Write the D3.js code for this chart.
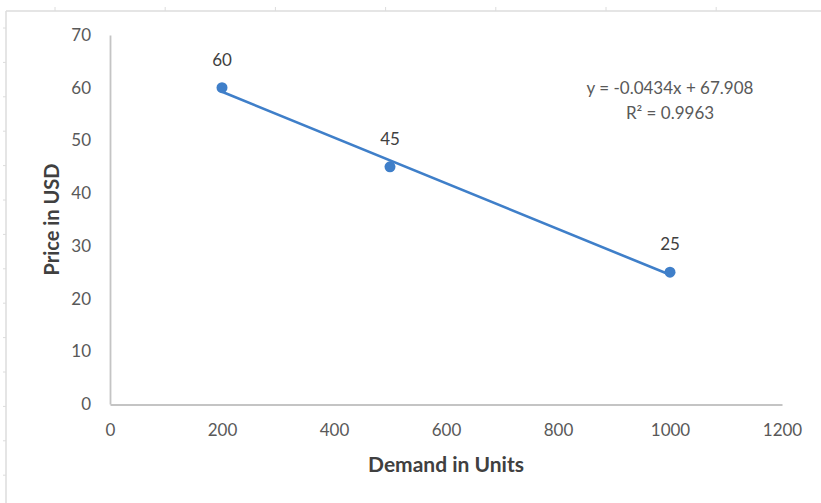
<!DOCTYPE html>
<html>
<head>
<meta charset="utf-8">
<script src="https://cdn.jsdelivr.net/npm/d3@7"></script>
<style>
  html, body { margin: 0; padding: 0; background: #ffffff; }
  svg { display: block; font-family: Lato, "Open Sans", sans-serif; }
</style>
</head>
<body>
<svg id="chart" width="821" height="503"></svg>
<script>
// ---- data ----
const demand = [200, 500, 1000];
const price = [60, 45, 25];
const pointLabels = ["60", "45", "25"];
const xTicks = [0, 200, 400, 600, 800, 1000, 1200];
const yTicks = [0, 10, 20, 30, 40, 50, 60, 70];
const trendSlope = -0.0434;
const trendIntercept = 67.908;
const trendRange = [200, 1000];
const equationLines = ["y = -0.0434x + 67.908", "R² = 0.9963"];
const xTitle = "Demand in Units";
const yTitle = "Price in USD";

// ---- layout ----
const W = 821, H = 503;
const svg = d3.select("#chart");
const x = d3.scaleLinear().domain([0, 1200]).range([110, 782]);
const y = d3.scaleLinear().domain([0, 70]).range([404, 35]);
const blue = "#3f7fc9";
const axisGrey = "#c4c4c4";
const textGrey = "#595959";

// faint sheet frame (decoration)
const frame = svg.append("g").attr("stroke", "#dcdcdc").attr("fill", "none");
frame.append("line").attr("x1", 6).attr("x2", W).attr("y1", 11).attr("y2", 11).attr("stroke-width", 1.5);
frame.append("line").attr("x1", 6).attr("x2", 6).attr("y1", 11).attr("y2", H).attr("stroke-width", 1.5);
frame.selectAll("line.tt").data(d3.range(55, W, 110.2)).enter().append("line")
  .attr("class", "tt").attr("x1", d => d).attr("x2", d => d).attr("y1", 7).attr("y2", 11).attr("stroke-width", 1);
frame.selectAll("line.lt").data(d3.range(28, H, 34.4)).enter().append("line")
  .attr("class", "lt").attr("x1", 3).attr("x2", 6).attr("y1", d => d).attr("y2", d => d).attr("stroke-width", 1);

// axes
const fmt = d3.format("d");
const xAxis = svg.append("g").attr("transform", "translate(0,404)")
  .call(d3.axisBottom(x).tickValues(xTicks).tickFormat(fmt).tickSize(0).tickSizeOuter(0).tickPadding(20));
const yAxis = svg.append("g").attr("transform", "translate(110,0)")
  .call(d3.axisLeft(y).tickValues(yTicks).tickFormat(fmt).tickSize(0).tickSizeOuter(0).tickPadding(19));
[xAxis, yAxis].forEach(g => {
  g.select(".domain").attr("stroke", axisGrey).attr("stroke-width", 1.8);
  g.selectAll("text").attr("fill", textGrey).style("font-size", "17px").style("font-family", "Lato, sans-serif");
});
xAxis.select(".domain").attr("transform", "translate(0,0.5)");

// trendline
svg.append("line")
  .attr("x1", x(trendRange[0])).attr("y1", y(trendSlope * trendRange[0] + trendIntercept))
  .attr("x2", x(trendRange[1])).attr("y2", y(trendSlope * trendRange[1] + trendIntercept))
  .attr("stroke", blue).attr("stroke-width", 2.6).attr("stroke-linecap", "round");

// points
const pts = demand.map((d, i) => ({ x: d, y: price[i], label: pointLabels[i] }));
svg.selectAll("circle.pt").data(pts).enter().append("circle")
  .attr("class", "pt").attr("cx", d => x(d.x)).attr("cy", d => y(d.y)).attr("r", 5.5)
  .attr("fill", blue);

// data labels
svg.selectAll("text.dl").data(pts).enter().append("text")
  .attr("class", "dl").attr("x", d => x(d.x)).attr("y", d => y(d.y) - 22)
  .attr("text-anchor", "middle").attr("fill", "#404040").style("font-size", "17px")
  .text(d => d.label);

// equation
svg.selectAll("text.eq").data(equationLines).enter().append("text")
  .attr("class", "eq").attr("x", 670).attr("y", (d, i) => 94 + i * 25)
  .attr("text-anchor", "middle").attr("fill", textGrey).style("font-size", "17px")
  .text(d => d);

// axis titles
svg.append("text").attr("x", (x.range()[0] + x.range()[1]) / 2).attr("y", 472)
  .attr("text-anchor", "middle").attr("fill", "#404040").style("font-size", "21px").style("font-weight", "bold")
  .text(xTitle);
svg.append("text").attr("transform", `translate(59,${(y.range()[0] + y.range()[1]) / 2}) rotate(-90)`)
  .attr("text-anchor", "middle").attr("fill", "#404040").style("font-size", "20px").style("font-weight", "bold")
  .text(yTitle);
</script>
</body>
</html>
